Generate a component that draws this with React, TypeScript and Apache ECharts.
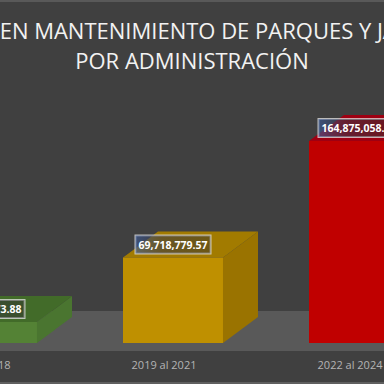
import React, { useEffect, useRef } from "react";
import * as echarts from "echarts";

const titleLines = ["GASTOS EN MANTENIMIENTO DE PARQUES Y JARDINES", "POR ADMINISTRACIÓN"];
const categories = ["2016 al 2018", "2019 al 2021", "2022 al 2024"];
const values = [17125073.88, 69718779.57, 164875058.41];
const frontColors = ["#548235", "#bf9000", "#c00000"];
const topColors = ["#426b29", "#a27b00", "#9e0012"];
const sideColors = ["#4a7530", "#9a7300", "#a80000"];

const OFFSET = 200;
const W = 384 + OFFSET * 2;
const H = 384;

export default function App() {
  const ref = useRef<HTMLDivElement>(null);
  useEffect(() => {
    document.body.style.margin = "0";
    document.body.style.overflow = "hidden";
    document.body.style.background = "#404040";
    const chart = echarts.init(ref.current!, null, { renderer: "svg" });
    const dx = 35;
    const dy = -26;
    const fmt = (v: number) =>
      v.toLocaleString("en-US", { minimumFractionDigits: 2, maximumFractionDigits: 2 });
    chart.setOption({
      animation: false,
      backgroundColor: "#404040",
      title: {
        text: titleLines.join("\n"),
        left: "center",
        top: 10,
        textStyle: {
          color: "#f2f2f2",
          fontSize: 22,
          fontWeight: "normal",
          lineHeight: 30,
          fontFamily: "Open Sans",
        },
      },
      graphic: [
        { type: "rect", z: -10, shape: { x: 0, y: 311, width: W, height: 40 }, style: { fill: "#595959" } },
        { type: "rect", z: -10, shape: { x: 0, y: 0, width: W, height: 2 }, style: { fill: "#595959" } },
        { type: "rect", z: -10, shape: { x: 0, y: 382, width: W, height: 2 }, style: { fill: "#5f5f5f" } },
      ],
      grid: { left: 94, right: W - 94 - 558, top: 98, bottom: 41 },
      xAxis: {
        type: "category",
        data: categories,
        axisLine: { show: false },
        axisTick: { show: false },
        axisLabel: {
          color: "#b4b4b4",
          fontSize: 11,
          fontFamily: "Open Sans",
          margin: 16,
          padding: [0, 18, 0, 0],
        },
      },
      yAxis: { type: "value", min: 0, max: 200000000, show: false, splitLine: { show: false } },
      series: [
        {
          type: "custom",
          data: values.map((v, i) => [i, v]),
          renderItem: (params: any, api: any) => {
            const i = params.dataIndex;
            const v = api.value(1);
            const base = api.coord([api.value(0), 0]);
            const topP = api.coord([api.value(0), v]);
            const bw = api.size([1, 0])[0] * 0.5376;
            const x0 = topP[0] - bw / 2;
            const x1 = x0 + bw;
            const yT = topP[1];
            const yB = base[1];
            return {
              type: "group",
              children: [
                {
                  type: "polygon",
                  shape: { points: [[x1, yT], [x1 + dx, yT + dy], [x1 + dx, yB + dy], [x1, yB]] },
                  style: { fill: sideColors[i] },
                },
                {
                  type: "polygon",
                  shape: { points: [[x0, yT], [x0 + dx, yT + dy], [x1 + dx, yT + dy], [x1, yT]] },
                  style: { fill: topColors[i] },
                },
                {
                  type: "rect",
                  shape: { x: x0, y: yT, width: bw, height: yB - yT },
                  style: { fill: frontColors[i] },
                },
                {
                  type: "text",
                  x: topP[0],
                  y: yT + dy / 2,
                  style: {
                    text: fmt(v),
                    align: "center",
                    verticalAlign: "middle",
                    fill: "#ffffff",
                    font: "bold 10.5px 'Open Sans'",
                    padding: [4, 3, 3, 3],
                    borderColor: "rgba(230,230,230,0.75)",
                    borderWidth: 1,
                    backgroundColor: new echarts.graphic.LinearGradient(0, 0, 1, 0, [
                      { offset: 0, color: "rgba(60,90,150,0.65)" },
                      { offset: 0.35, color: "rgba(55,55,70,0.55)" },
                      { offset: 1, color: "rgba(45,45,45,0.45)" },
                    ]),
                  },
                },
              ],
            };
          },
        },
      ],
    });
    return () => chart.dispose();
  }, []);
  return (
    <div
      ref={ref}
      style={{ position: "fixed", left: -OFFSET, top: 0, width: W, height: H }}
    />
  );
}
